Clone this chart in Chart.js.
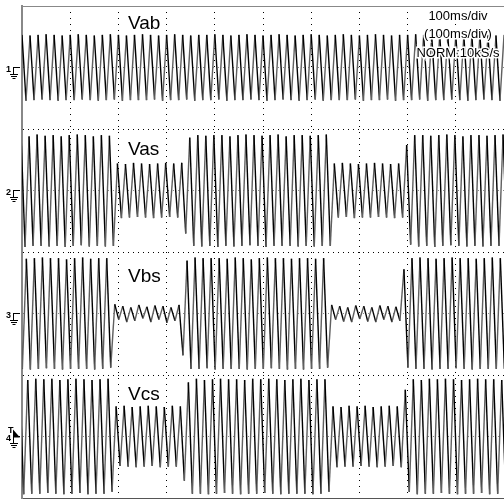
<!DOCTYPE html>
<html><head><meta charset="utf-8">
<script src="https://cdn.jsdelivr.net/npm/chart.js@4.4.0/dist/chart.umd.min.js"></script>
<style>html,body{margin:0;padding:0;background:#fff;}</style>
</head><body>
<canvas id="c" width="504" height="500"></canvas>
<script>
// Trace names and their vertical centres (divisions)
const traceNames = ['Vab', 'Vas', 'Vbs', 'Vcs'];
const traceCenters = [3, 1, -1, -3];
const tracePhaseMs = [0, -2, -7.6, -4.8];
const halfPeriodMs = 1000 / 120;   // 60 Hz, successive peak / trough
const timebaseText = ['100ms/div', '(100ms/div)', 'NORM:10kS/s'];

// Peak / trough values (divisions, relative to trace centre)
const vab = [
0.53,-0.54,0.52,-0.53,0.53,-0.52,0.54,-0.53,0.53,-0.54,
0.52,-0.53,0.53,-0.53,0.54,-0.52,0.53,-0.53,0.52,-0.54,
0.53,-0.53,0.54,-0.52,0.53,-0.54,0.52,-0.53,0.53,-0.53,
0.54,-0.53,0.53,-0.52,0.52,-0.54,0.53,-0.53,0.54,-0.53,
0.53,-0.52,0.52,-0.54,0.53,-0.53,0.53,-0.53,0.54,-0.52,
0.53,-0.54,0.52,-0.53,0.53,-0.53,0.54,-0.52,0.53,-0.53,
0.52,-0.54,0.53,-0.53,0.54,-0.52,0.53,-0.53,0.52,-0.54,
0.53,-0.53,0.54,-0.52,0.53,-0.54,0.52,-0.53,0.53,-0.53,
0.54,-0.53,0.53,-0.52,0.52,-0.54,0.53,-0.53,0.54,-0.53,
0.53,-0.52,0.52,-0.54,0.53,-0.53,0.53,-0.53,0.54,-0.52,
0.53,-0.54,0.52,-0.53,0.53,-0.53,0.54,-0.52,0.53,-0.53,
0.52,-0.54,0.53,-0.53,0.54,-0.52,0.53,-0.53,0.52,-0.54,
0.53,-0.53];
const vas = [
0.9,-0.92,0.88,-0.9,0.91,-0.9,0.89,-0.91,0.9,-0.9,
0.88,-0.92,0.9,-0.9,0.91,-0.89,0.9,-0.91,0.88,-0.9,
0.9,-0.91,0.89,-0.9,
0.44,-0.45,0.43,-0.44,0.45,-0.43,
0.44,-0.44,0.43,-0.45,0.44,-0.44,0.45,-0.43,0.44,-0.44,
0.45,
-0.7,0.86,-0.9,0.9,-0.91,0.89,-0.9,0.9,-0.92,
0.9,-0.9,0.88,-0.91,0.9,-0.9,0.91,-0.89,0.9,-0.9,
0.89,-0.92,0.9,-0.9,0.91,-0.9,0.88,-0.9,0.9,-0.91,
0.9,-0.9,0.89,-0.91,0.9,-0.9,0.91,-0.9,
0.44,-0.44,0.45,-0.43,0.44,-0.45,0.43,-0.44,0.44,-0.44,
0.45,-0.43,0.44,-0.44,0.43,-0.45,0.44,-0.44,
0.74,-0.88,0.9,-0.91,0.9,-0.9,0.89,-0.92,0.9,-0.9,
0.91,-0.89,0.9,-0.9,0.88,-0.91,0.9,-0.9,0.9,-0.91,
0.89,-0.9,0.9,-0.9,0.91,-0.9];
const vbs = [
0.9,-0.9,0.89,-0.91,0.9,-0.9,0.91,-0.89,0.9,-0.9,
0.9,-0.91,0.88,-0.9,0.9,-0.9,0.91,-0.9,0.89,-0.91,
0.9,-0.9,0.9,-0.88,
0.15,-0.1,0.12,-0.14,0.1,-0.12,
0.14,-0.08,0.11,-0.14,0.13,-0.1,0.12,-0.15,0.1,-0.12,
0.14,
-0.68,0.86,-0.9,0.91,-0.9,0.9,-0.89,0.9,-0.91,
0.9,-0.9,0.89,-0.9,0.91,-0.9,0.9,-0.91,0.88,-0.9,
0.9,-0.9,0.91,-0.89,0.9,-0.9,0.9,-0.91,0.89,-0.9,
0.9,-0.91,0.9,-0.9,0.89,-0.9,0.9,-0.88,
0.14,-0.1,0.12,-0.13,0.1,-0.14,0.13,-0.09,0.12,-0.13,
0.1,-0.14,0.13,-0.1,0.12,-0.14,0.11,-0.12,
0.72,-0.88,0.9,-0.9,0.91,-0.9,0.9,-0.91,0.89,-0.9,
0.9,-0.9,0.91,-0.89,0.9,-0.9,0.9,-0.91,0.89,-0.9,
0.9,-0.9,0.91,-0.9,0.9,-0.9];
const vcs = [
0.93,-0.94,0.92,-0.93,0.94,-0.93,0.93,-0.92,0.94,-0.93,
0.92,-0.94,0.93,-0.93,0.94,-0.92,0.93,-0.94,0.92,-0.93,
0.93,-0.93,0.94,-0.9,
0.49,-0.48,0.5,-0.49,0.48,-0.5,
0.49,-0.49,0.5,-0.48,0.49,-0.5,0.48,-0.49,0.5,-0.49,
0.49,
-0.72,0.88,-0.93,0.94,-0.93,0.92,-0.94,0.93,-0.93,
0.94,-0.92,0.93,-0.93,0.93,-0.94,0.92,-0.93,0.94,-0.93,
0.93,-0.92,0.94,-0.93,0.93,-0.94,0.92,-0.93,0.93,-0.93,
0.94,-0.93,0.92,-0.94,0.93,-0.93,0.93,-0.9,
0.49,-0.5,0.48,-0.49,0.5,-0.49,0.49,-0.48,0.5,-0.49,
0.48,-0.5,0.49,-0.49,0.5,-0.48,0.49,-0.5,
0.76,-0.9,0.93,-0.94,0.92,-0.93,0.94,-0.93,0.93,-0.92,
0.94,-0.93,0.93,-0.94,0.92,-0.93,0.93,-0.93,0.94,-0.92,
0.93,-0.94,0.93,-0.93,0.92,-0.93];

const traceValues = [vab, vas, vbs, vcs];

const datasets = traceValues.map((vals, k) => ({
  label: traceNames[k],
  data: vals.map((v, i) => ({ x: tracePhaseMs[k] + i * halfPeriodMs, y: traceCenters[k] + v })),
  borderColor: '#000',
  borderWidth: 1.4,
  pointRadius: 0,
  tension: 0,
  segment: {
    borderColor: c => (c.p1.parsed.y > c.p0.parsed.y ? '#606060' : '#000')
  }
}));

const scopeDecor = {
  id: 'scopeDecor',
  afterDraw(chart) {
    const ctx = chart.ctx;
    const a = chart.chartArea;
    const ys = chart.scales.y;
    ctx.save();
    // top frame line
    ctx.strokeStyle = '#888';
    ctx.lineWidth = 1;
    ctx.beginPath(); ctx.moveTo(a.left, a.top + 0.5); ctx.lineTo(a.right, a.top + 0.5); ctx.stroke();

    // trace labels
    ctx.fillStyle = '#000';
    ctx.font = '19px "Liberation Sans", Arial, sans-serif';
    ctx.textAlign = 'left';
    ctx.textBaseline = 'alphabetic';
    const labelBase = [29, 155, 282, 400];
    traceNames.forEach((n, k) => ctx.fillText(n, 128, labelBase[k]));

    // timebase text top-right with white halo
    ctx.font = '13px "Liberation Sans Narrow", "Liberation Sans", sans-serif';
    ctx.textAlign = 'center';
    const tb = [20, 38, 57];
    timebaseText.forEach((t, k) => {
      ctx.lineWidth = 3; ctx.strokeStyle = '#fff';
      ctx.strokeText(t, 458, tb[k]);
      ctx.fillStyle = '#000';
      ctx.fillText(t, 458, tb[k]);
    });

    // ground markers
    traceCenters.forEach((c, k) => {
      const gy = Math.round(ys.getPixelForValue(c)) + 0.5;
      ctx.strokeStyle = '#000'; ctx.fillStyle = '#000'; ctx.lineWidth = 1;
      ctx.font = 'bold 9px "Liberation Sans", sans-serif';
      ctx.textAlign = 'left';
      ctx.fillText(String(k + 1), 6, gy + 3);
      ctx.beginPath();
      ctx.moveTo(13, gy - 1); ctx.lineTo(20, gy - 1);
      ctx.moveTo(13.5, gy - 1); ctx.lineTo(13.5, gy + 6);
      ctx.moveTo(10, gy + 6); ctx.lineTo(18, gy + 6);
      ctx.moveTo(11, gy + 8); ctx.lineTo(17, gy + 8);
      ctx.moveTo(12.5, gy + 10); ctx.lineTo(15.5, gy + 10);
      ctx.stroke();
      if (k === 3) {
        ctx.fillText('T', 8, gy - 5);
        ctx.beginPath();
        ctx.moveTo(13, gy - 8); ctx.lineTo(20, gy); ctx.lineTo(13, gy); ctx.closePath();
        ctx.fill();
      }
    });
    ctx.restore();
  }
};

new Chart(document.getElementById('c'), {
  type: 'line',
  data: { datasets },
  options: {
    responsive: false,
    animation: false,
    devicePixelRatio: 1,
    layout: { padding: { left: 22, top: 6, right: 0, bottom: 2 } },
    plugins: { legend: { display: false }, tooltip: { enabled: false } },
    scales: {
      x: {
        type: 'linear', min: 0, max: 1000,
        ticks: { display: false, stepSize: 100 },
        grid: { color: '#000', lineWidth: 1, drawTicks: false },
        border: { display: true, color: '#555', width: 1, dash: [1, 5] }
      },
      y: {
        type: 'linear', min: -4, max: 4,
        ticks: { display: false, stepSize: 1 },
        grid: {
          color: c => (Math.abs(c.tick.value) % 2 === 1 ? '#8a8a8a' : '#000'),
          lineWidth: 1, drawTicks: false
        },
        border: { display: true, color: '#888', width: 2, dash: [1, 4] }
      }
    }
  },
  plugins: [scopeDecor]
});
</script>
</body></html>
